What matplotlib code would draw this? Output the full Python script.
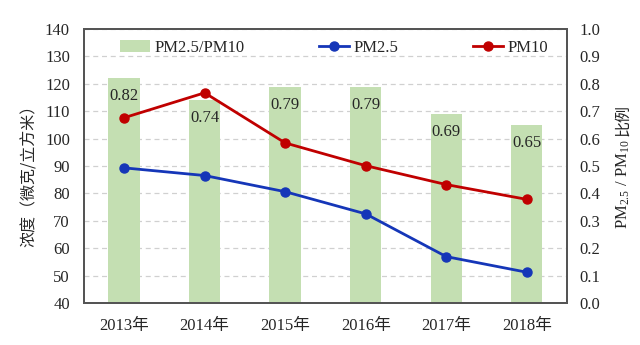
import matplotlib
matplotlib.use("Agg")
import matplotlib.pyplot as plt
from matplotlib.ticker import MultipleLocator, FixedLocator

# ── Data ──────────────────────────────────────────────────────────────────────
years = ["2013年", "2014年", "2015年", "2016年", "2017年", "2018年"]
ratio = [0.82, 0.74, 0.79, 0.79, 0.69, 0.65]
pm25 = [89.3, 86.5, 80.6, 72.5, 56.9, 51.2]
pm10 = [107.6, 116.7, 98.4, 90.1, 83.2, 77.8]

# ── Style ─────────────────────────────────────────────────────────────────────
SERIF = ["Liberation Serif", "Noto Sans CJK SC"]
plt.rcParams["font.family"] = SERIF
plt.rcParams["mathtext.fontset"] = "custom"
plt.rcParams["mathtext.rm"] = "Liberation Serif"
plt.rcParams["mathtext.it"] = "Liberation Serif:italic"
TXT = "#262626"
BAR_C = "#c4dfb2"
BLUE = "#1536b8"
RED = "#c00000"
FS = 12

fig = plt.figure(figsize=(6.4, 3.45), dpi=100)
ax = fig.add_axes([0.131, 0.122, 0.755, 0.794])
ax_r = ax.twinx()
ax.set_zorder(ax_r.get_zorder() + 1)
ax.patch.set_visible(False)

x = list(range(len(years)))

# bars on right axis (ratio)
ax_r.bar(x, ratio, width=0.39, color=BAR_C, label="PM2.5/PM10", zorder=2)
for xi, r in zip(x, ratio):
    ax_r.text(xi, r - 0.066, f"{r:.2f}", ha="center", va="center",
              fontsize=FS, color=TXT, zorder=3)
ax_r.set_ylim(0, 1.0)
ax_r.yaxis.set_major_locator(MultipleLocator(0.1))
ax_r.yaxis.set_major_formatter(plt.FuncFormatter(lambda v, _: f"{v:.1f}"))

# grid behind bars
ax_r.set_axisbelow(True)
ax_r.grid(axis="y", color="#d0d0d0", linestyle=(0, (4, 3)), linewidth=0.9)
ax_r.xaxis.set_minor_locator(FixedLocator([i + 0.5 for i in x[:-1]]))
ax_r.grid(axis="x", which="minor", color="#d0d0d0", linestyle=(0, (4, 3)), linewidth=0.9)

# lines on left axis (concentration)
ax.plot(x, pm25, color=BLUE, lw=2, marker="o", ms=6.5, label="PM2.5")
ax.plot(x, pm10, color=RED, lw=2, marker="o", ms=6.5, label="PM10")
ax.set_ylim(40, 140)
ax.yaxis.set_major_locator(MultipleLocator(10))
ax.set_xlim(-0.5, len(years) - 0.5)
ax.set_xticks(x)
ax.set_xticklabels(years)

for a in (ax, ax_r):
    a.tick_params(length=0, labelsize=FS, colors=TXT)
    a.tick_params(axis="x", which="minor", length=0)
    for s in a.spines.values():
        s.set_color("#555555")
        s.set_linewidth(1.4)
ax.tick_params(axis="x", pad=11)
ax.tick_params(axis="y", pad=10)
ax_r.tick_params(axis="y", pad=9)

# axis titles
fig.text(29 / 640, 1 - 172 / 345, "浓度（微克/立方米）", rotation=90,
         ha="center", va="center", fontsize=11.5, color=TXT,
         family=["Noto Sans CJK SC"])
t1 = fig.text(623 / 640, 1 - 229 / 345, "PM$_{2.5}$ / PM$_{10}$", rotation=90,
              ha="center", va="bottom", fontsize=FS, color=TXT)
fig.canvas.draw()
bb = t1.get_window_extent()
fig.text(623 / 640, (bb.y1 + 4) / fig.bbox.height, "比例", rotation=90,
         ha="center", va="bottom", fontsize=FS - 0.5, color=TXT,
         family=["Noto Sans CJK SC"])

# legend
h1, l1 = ax_r.get_legend_handles_labels()
h2, l2 = ax.get_legend_handles_labels()
ax.legend(h1 + h2, l1 + l2, ncol=3, loc="center", bbox_to_anchor=(0.518, 0.93),
          frameon=False, fontsize=FS, handlelength=1.8, columnspacing=4.45,
          handletextpad=0.3, labelcolor=TXT)

fig.savefig("out.png", dpi=100)
